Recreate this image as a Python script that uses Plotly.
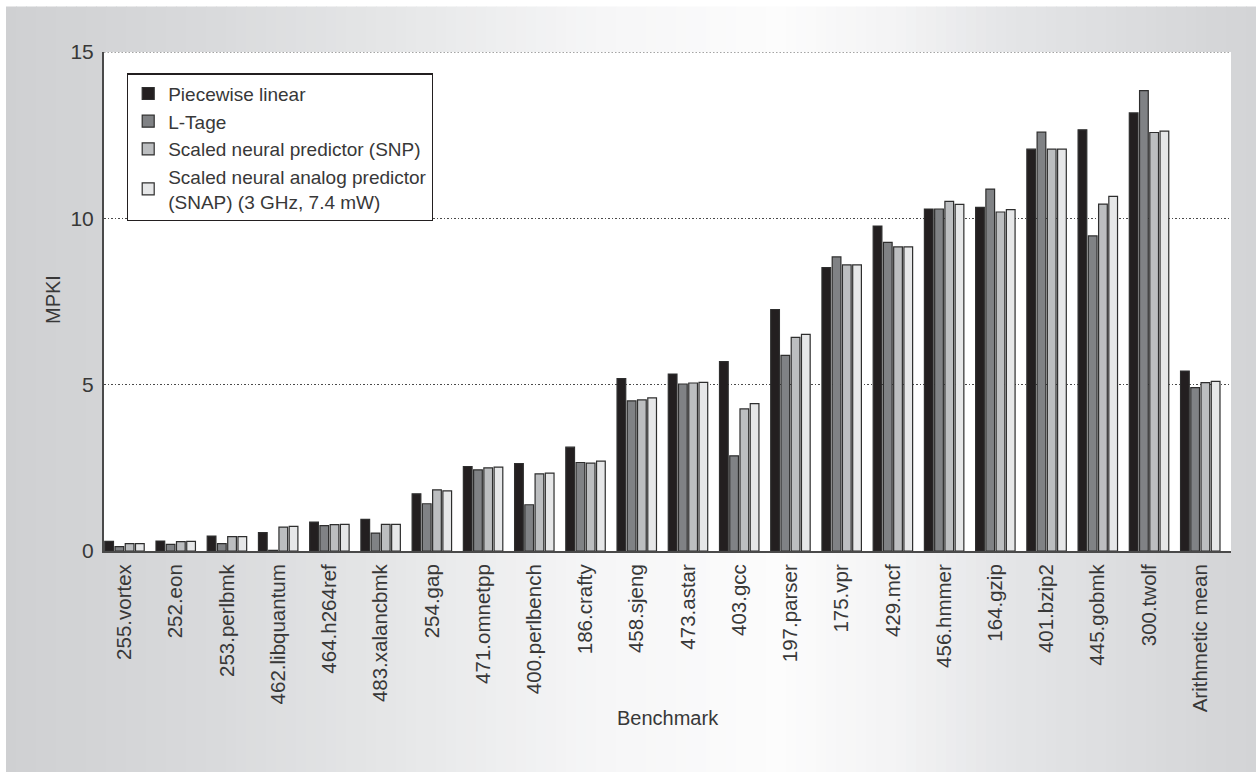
import plotly.graph_objects as go

benchmarks = ["255.vortex", "252.eon", "253.perlbmk", "462.libquantum", "464.h264ref",
              "483.xalancbmk", "254.gap", "471.omnetpp", "400.perlbench", "186.crafty",
              "458.sjeng", "473.astar", "403.gcc", "197.parser", "175.vpr", "429.mcf",
              "456.hmmer", "164.gzip", "401.bzip2", "445.gobmk", "300.twolf", "Arithmetic mean"]

piecewise = [0.29, 0.30, 0.45, 0.55, 0.87, 0.95, 1.72, 2.54, 2.63, 3.12, 5.18, 5.32, 5.69,
             7.26, 8.52, 9.77, 10.28, 10.33, 12.08, 12.66, 13.17, 5.41]
ltage = [0.13, 0.20, 0.22, 0.02, 0.76, 0.54, 1.42, 2.44, 1.39, 2.66, 4.51, 5.02, 2.86,
         5.88, 8.84, 9.28, 10.28, 10.88, 12.59, 9.47, 13.84, 4.91]
snp = [0.22, 0.28, 0.43, 0.72, 0.79, 0.80, 1.84, 2.50, 2.32, 2.64, 4.54, 5.05, 4.27,
       6.42, 8.60, 9.14, 10.51, 10.19, 12.08, 10.43, 12.58, 5.06]
snap = [0.22, 0.29, 0.43, 0.74, 0.80, 0.80, 1.81, 2.52, 2.34, 2.70, 4.60, 5.07, 4.43,
        6.51, 8.60, 9.14, 10.42, 10.26, 12.08, 10.66, 12.62, 5.10]

series_names = ["Piecewise linear", "L-Tage", "Scaled neural predictor (SNP)",
                "Scaled neural analog predictor<br>(SNAP) (3 GHz, 7.4 mW)"]
series_values = [piecewise, ltage, snp, snap]
series_colors = ["#231f20", "#808285", "#bcbec0", "#e6e7e8"]

FONT = "Liberation Sans, Arial, Helvetica, sans-serif"
TXT = "#383838"
GRID_DASH = "1.5px,2px"

W, H = 1256, 772
L, R, T, B = 104, 25, 51.5, 220.5
pw, ph = W - L - R, H - T - B

def px2paper_x(px):
    return (px - L) / pw

def px2paper_y(py):
    return (H - B - py) / ph

fig = go.Figure()
for name, vals, col in zip(series_names, series_values, series_colors):
    fig.add_trace(go.Bar(
        x=benchmarks, y=vals, name=name,
        marker=dict(color=col, line=dict(color="#2e2e2e", width=1.2)),
    ))

# background card gradient (horizontal)
stops = [(6, (207, 208, 210)), (200, (216, 217, 219)), (400, (230, 231, 232)),
         (600, (246, 246, 247)), (780, (252, 252, 252)), (900, (243, 243, 244)),
         (1000, (229, 230, 232)), (1230, (212, 213, 215)), (1256, (211, 212, 214))]

def col_at(x):
    for (x0, c0), (x1, c1) in zip(stops[:-1], stops[1:]):
        if x0 <= x <= x1:
            t = (x - x0) / (x1 - x0)
            return tuple(round(a + (b - a) * t) for a, b in zip(c0, c1))
    return stops[-1][1]

shapes = []
n = 125
x_start, x_end = 6, 1256
step = (x_end - x_start) / n
for i in range(n):
    a = x_start + i * step
    b = a + step + 1
    c = col_at(a + step / 2)
    shapes.append(dict(type="rect", xref="paper", yref="paper",
                       x0=px2paper_x(a), x1=px2paper_x(min(b, x_end)),
                       y0=px2paper_y(H + 2), y1=px2paper_y(6),
                       fillcolor="rgb(%d,%d,%d)" % c, line=dict(width=0), layer="below"))
shapes.append(dict(type="rect", xref="x domain", yref="y domain", x0=0, x1=1, y0=0, y1=1,
                   fillcolor="white", line=dict(width=0), layer="below"))
# top dotted gridline at 15 (plotly omits the gridline at the range edge)
shapes.append(dict(type="line", xref="x domain", yref="y", x0=0, x1=1, y0=15, y1=15,
                   line=dict(color="#4a4a4a", width=1, dash=GRID_DASH), layer="below"))

fig.update_layout(
    width=W, height=H,
    margin=dict(l=L, r=R, t=T, b=B, pad=0),
    paper_bgcolor="white", plot_bgcolor="white",
    barmode="group", bargap=0.2, bargroupgap=0.15,
    font=dict(family=FONT, color=TXT, size=20),
    shapes=shapes,
    showlegend=True,
    legend=dict(x=px2paper_x(127), y=px2paper_y(73), xanchor="left", yanchor="top",
                bgcolor="white", bordercolor="#231f20", borderwidth=1.2,
                font=dict(family=FONT, size=19, color=TXT),
                itemwidth=30, tracegroupgap=0),
    xaxis=dict(range=[-0.40, 21.6], tickangle=-90, showgrid=False,
               showline=True, linecolor="#4a4a4a", linewidth=2,
               ticks="", tickfont=dict(size=20.5, color=TXT), ticklabelstandoff=3),
    yaxis=dict(range=[0, 15], tickvals=[0, 5, 10, 15], ticktext=["0", "5", "10", "15"],
               showgrid=True, gridcolor="#4a4a4a", griddash=GRID_DASH, gridwidth=1,
               showline=True, linecolor="#4a4a4a", linewidth=2, zeroline=False,
               ticks="", tickfont=dict(size=21, color=TXT), ticklabelstandoff=4),
    annotations=[
        dict(text="MPKI", x=px2paper_x(40), y=px2paper_y(300), xref="paper", yref="paper",
             textangle=-90, showarrow=False, font=dict(size=20, color=TXT)),
        dict(text="Benchmark", x=0.5, y=px2paper_y(732), xref="paper", yref="paper",
             showarrow=False, font=dict(size=20, color=TXT)),
    ],
)

fig.write_html("out.html", config={"displayModeBar": False},
               post_script="document.body.style.margin='0';")
